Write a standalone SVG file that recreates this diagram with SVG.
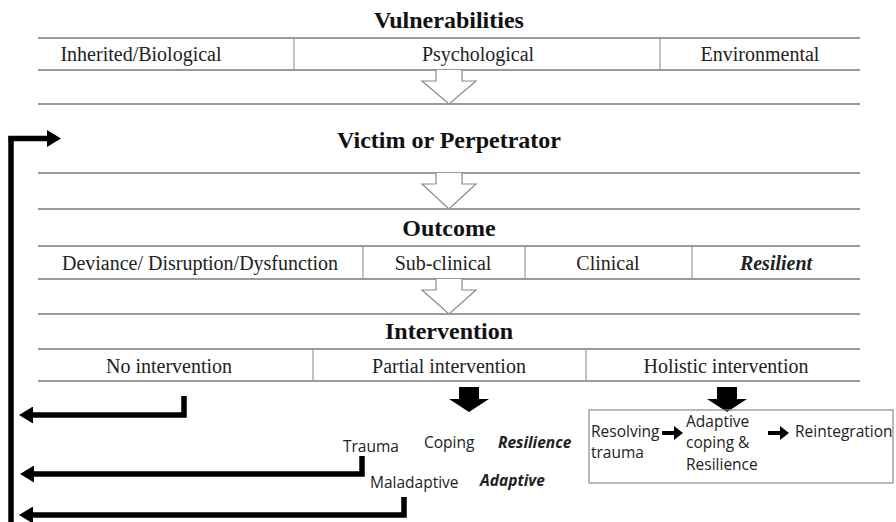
<svg xmlns="http://www.w3.org/2000/svg" width="896" height="522" viewBox="0 0 896 522">
<style>
.h{font-family:"Liberation Serif",serif;font-weight:bold;font-size:24px;fill:#111;text-anchor:middle}
.c{font-family:"Liberation Serif",serif;font-size:20px;fill:#222;text-anchor:middle}
.s{font-family:"Open Sans","Liberation Sans",sans-serif;font-size:15.5px;fill:#222}
.bi{font-weight:bold;font-style:italic}
.hl{stroke:#9a9a9a;stroke-width:2;fill:none}
.dv{stroke:#9a9a9a;stroke-width:1.2;fill:none}
.ha{fill:#fff;stroke:#8a8a8a;stroke-width:1.2}
.fb{stroke:#000;stroke-width:5.5;fill:none}
</style>
<defs>
<marker id="ah" markerUnits="userSpaceOnUse" markerWidth="14" markerHeight="17" refX="1" refY="8.5" orient="auto">
<path d="M0,0 L14,8.5 L0,17 Z" fill="#000"/>
</marker>
</defs>
<rect width="896" height="522" fill="#fff"/>

<g id="vulnerabilities">
<text class="h" x="449" y="28">Vulnerabilities</text>
<line class="hl" x1="38" y1="38" x2="860" y2="38"/>
<line class="dv" x1="294" y1="38" x2="294" y2="70"/>
<line class="dv" x1="660" y1="38" x2="660" y2="70"/>
<text class="c" x="141" y="61">Inherited/Biological</text>
<text class="c" x="478" y="61">Psychological</text>
<text class="c" x="760" y="61">Environmental</text>
<line class="hl" x1="38" y1="70" x2="860" y2="70"/>
<path class="ha" d="M436,70 L436,81 L422,81 L449,104 L476,81 L462,81 L462,70"/>
<line class="hl" x1="38" y1="104" x2="860" y2="104"/>
</g>

<g id="victim">
<text class="h" x="449" y="148">Victim or Perpetrator</text>
<line class="hl" x1="38" y1="173" x2="860" y2="173"/>
<path class="ha" d="M436,173 L436,184 L422,184 L449,209 L476,184 L462,184 L462,173"/>
<line class="hl" x1="38" y1="209" x2="860" y2="209"/>
</g>

<g id="outcome">
<text class="h" x="449" y="236">Outcome</text>
<line class="hl" x1="38" y1="246" x2="860" y2="246"/>
<line class="dv" x1="363" y1="246" x2="363" y2="279"/>
<line class="dv" x1="525" y1="246" x2="525" y2="279"/>
<line class="dv" x1="692" y1="246" x2="692" y2="279"/>
<text class="c" x="200" y="270">Deviance/ Disruption/Dysfunction</text>
<text class="c" x="443" y="270">Sub-clinical</text>
<text class="c" x="608" y="270">Clinical</text>
<text class="c bi" x="776" y="270">Resilient</text>
<line class="hl" x1="38" y1="279" x2="860" y2="279"/>
<path class="ha" d="M436,279 L436,290 L422,290 L449,314 L476,290 L462,290 L462,279"/>
<line class="hl" x1="38" y1="314" x2="860" y2="314"/>
</g>

<g id="intervention">
<text class="h" x="449" y="339">Intervention</text>
<line class="hl" x1="38" y1="349" x2="860" y2="349"/>
<line class="dv" x1="313" y1="349" x2="313" y2="381"/>
<line class="dv" x1="586" y1="349" x2="586" y2="381"/>
<text class="c" x="169" y="373">No intervention</text>
<text class="c" x="449" y="373">Partial intervention</text>
<text class="c" x="726" y="373">Holistic intervention</text>
<line class="hl" x1="38" y1="381" x2="860" y2="381"/>
</g>

<g id="partial">
<path d="M459,387 L479,387 L479,399 L489,399 L469,412 L449,399 L459,399 Z" fill="#000"/>
<text class="s" x="343" y="452">Trauma</text>
<text class="s" x="424" y="448">Coping</text>
<text class="s bi" x="498" y="448">Resilience</text>
<text class="s" x="370" y="488">Maladaptive</text>
<text class="s bi" x="480" y="486">Adaptive</text>
</g>

<g id="holistic">
<path d="M717,387 L737,387 L737,399 L747,399 L727,412 L707,399 L717,399 Z" fill="#000"/>
<rect x="589" y="410" width="304" height="73" fill="none" stroke="#8a8a8a" stroke-width="1.2"/>
<text class="s" x="591" y="437">Resolving</text>
<text class="s" x="591" y="458">trauma</text>
<path d="M662,431 L674,431 L674,426 L683,433 L674,440 L674,435 L662,435 Z" fill="#000"/>
<text class="s" x="686" y="427">Adaptive</text>
<text class="s" x="686" y="448">coping &amp;</text>
<text class="s" x="686" y="470">Resilience</text>
<path d="M768,431 L780,431 L780,426 L789,433 L780,440 L780,435 L768,435 Z" fill="#000"/>
<text class="s" x="795" y="437">Reintegration</text>
</g>

<g id="connectors">
<line class="fb" x1="11" y1="136" x2="11" y2="522"/>
<polyline class="fb" points="8.5,138.5 48,138.5" marker-end="url(#ah)"/>
<polyline class="fb" points="184,396 184,415 32,415" marker-end="url(#ah)"/>
<polyline class="fb" points="362,456 362,474 33,474" marker-end="url(#ah)"/>
<polyline class="fb" points="404,497 404,515 32,515" marker-end="url(#ah)"/>
</g>
</svg>
